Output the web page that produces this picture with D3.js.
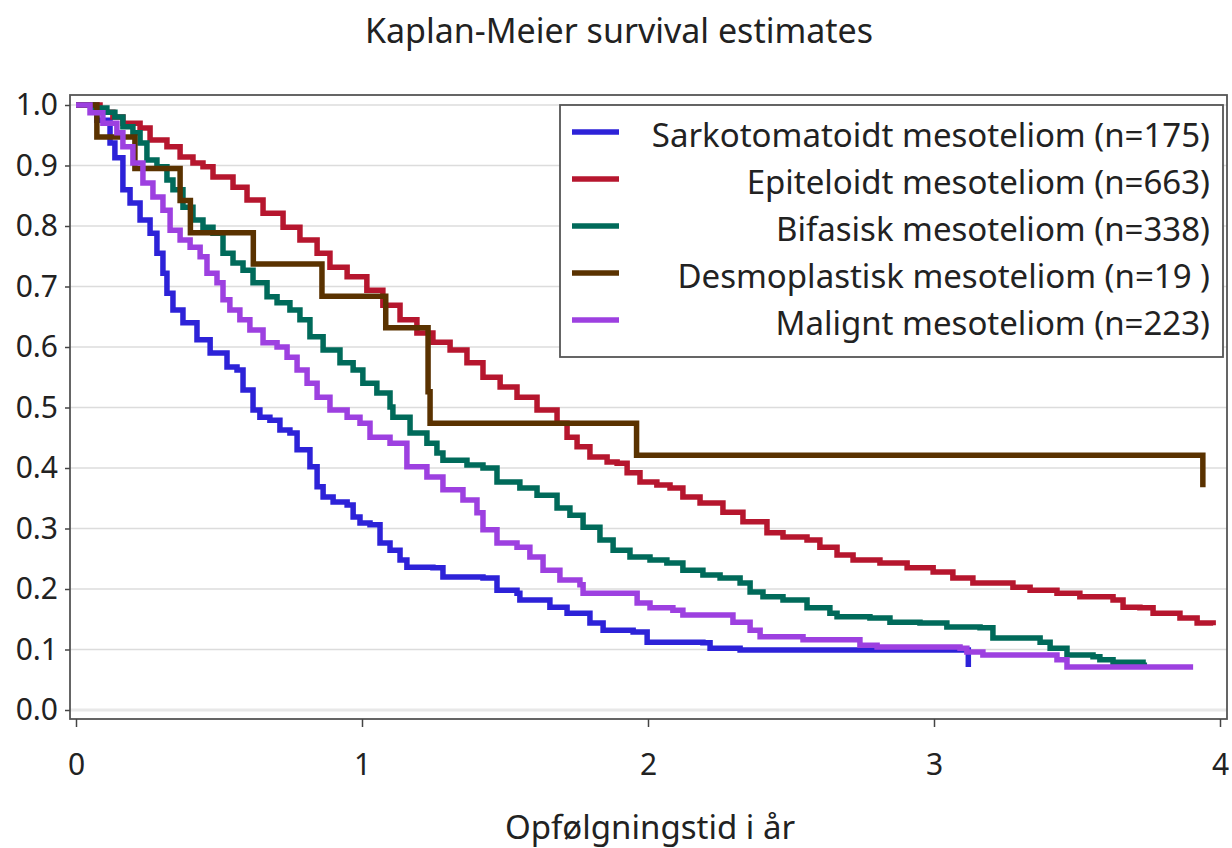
<!DOCTYPE html>
<html>
<head>
<meta charset="utf-8">
<script src="https://cdn.jsdelivr.net/npm/d3@7"></script>
<style>
  html, body { margin: 0; padding: 0; background: #fff; }
  svg { display: block; }
  text { font-family: "Noto Sans", "Open Sans", sans-serif; fill: #222; }
</style>
</head>
<body>
<svg id="chart" width="1232" height="848"></svg>
<script>
// ---- Data ----
const titleText = "Kaplan-Meier survival estimates";
const xLabelText = "Opfølgningstid i år";
const xTicks = [0, 1, 2, 3, 4];
const yTicks = [0, 0.1, 0.2, 0.3, 0.4, 0.5, 0.6, 0.7, 0.8, 0.9, 1.0];

const seriesNames = [
  "Sarkotomatoidt mesoteliom (n=175)",
  "Epiteloidt mesoteliom (n=663)",
  "Bifasisk mesoteliom (n=338)",
  "Desmoplastisk mesoteliom (n=19 )",
  "Malignt mesoteliom (n=223)"
];
const seriesColors = ["#2d22d8", "#b6162e", "#006a5a", "#5a3200", "#9d40e0"];

const sarkoT = [0,0.073,0.119,0.136,0.164,0.189,0.224,0.259,0.283,0.304,0.318,0.339,0.374,0.423,0.469,0.528,0.563,0.584,0.619,0.643,0.678,0.713,0.748,0.773,0.818,0.843,0.864,0.899,0.948,0.969,0.993,1.028,1.063,1.098,1.133,1.157,1.248,1.283,1.423,1.472,1.542,1.552,1.657,1.717,1.797,1.843,1.948,1.997,2.192,2.217,2.322,3.120,3.120];
const sarkoS = [1,0.975,0.937,0.913,0.860,0.838,0.810,0.788,0.755,0.722,0.689,0.661,0.640,0.612,0.590,0.567,0.562,0.529,0.496,0.484,0.479,0.463,0.458,0.430,0.402,0.369,0.352,0.344,0.339,0.319,0.309,0.306,0.276,0.264,0.248,0.236,0.235,0.220,0.218,0.198,0.193,0.182,0.170,0.160,0.144,0.132,0.129,0.112,0.111,0.102,0.099,0.098,0.071];

const epiT = [0,0.084,0.129,0.164,0.224,0.259,0.318,0.364,0.409,0.444,0.479,0.549,0.598,0.654,0.724,0.783,0.843,0.888,0.948,1.017,1.073,1.133,1.192,1.248,1.308,1.367,1.423,1.483,1.542,1.612,1.682,1.717,1.752,1.797,1.857,1.892,1.927,1.972,2.031,2.077,2.122,2.182,2.262,2.332,2.416,2.472,2.556,2.601,2.661,2.717,2.811,2.906,2.997,3.066,3.136,3.276,3.336,3.430,3.510,3.626,3.661,3.720,3.766,3.860,3.920,3.976];
const epiS = [1,0.988,0.980,0.970,0.962,0.942,0.931,0.914,0.904,0.898,0.881,0.864,0.843,0.821,0.798,0.777,0.755,0.732,0.716,0.694,0.669,0.645,0.623,0.608,0.595,0.574,0.550,0.534,0.517,0.496,0.474,0.451,0.435,0.418,0.410,0.408,0.392,0.377,0.372,0.367,0.352,0.342,0.327,0.311,0.293,0.286,0.281,0.269,0.256,0.248,0.243,0.235,0.228,0.218,0.210,0.203,0.198,0.193,0.187,0.182,0.170,0.169,0.160,0.152,0.144,0.140];

const bifT = [0,0.059,0.108,0.136,0.164,0.199,0.224,0.248,0.283,0.318,0.339,0.374,0.409,0.444,0.479,0.514,0.549,0.584,0.619,0.668,0.703,0.748,0.783,0.818,0.864,0.923,0.969,1.003,1.052,1.098,1.108,1.168,1.227,1.262,1.283,1.367,1.423,1.472,1.552,1.612,1.682,1.727,1.773,1.832,1.878,1.937,2.007,2.066,2.122,2.192,2.252,2.322,2.357,2.402,2.472,2.556,2.636,2.661,2.776,2.846,2.951,3.045,3.161,3.206,3.371,3.406,3.465,3.556,3.580,3.626,3.731,3.745];
const bifS = [1,0.995,0.988,0.980,0.964,0.954,0.937,0.909,0.898,0.876,0.860,0.831,0.810,0.798,0.788,0.755,0.739,0.727,0.706,0.683,0.673,0.661,0.645,0.617,0.595,0.574,0.562,0.540,0.524,0.501,0.484,0.458,0.441,0.425,0.413,0.405,0.400,0.377,0.367,0.355,0.334,0.322,0.302,0.281,0.264,0.253,0.248,0.243,0.231,0.223,0.218,0.210,0.195,0.187,0.182,0.169,0.160,0.154,0.152,0.145,0.144,0.137,0.136,0.119,0.112,0.102,0.091,0.088,0.083,0.079,0.074,0.074];

const desmoT = [0,0.073,0.206,0.364,0.400,0.620,0.860,1.083,1.231,1.238,1.960,3.940];
const desmoS = [1,0.947,0.895,0.842,0.789,0.737,0.684,0.632,0.526,0.474,0.421,0.368];

const maligT = [0,0.049,0.094,0.143,0.164,0.199,0.234,0.269,0.304,0.329,0.364,0.399,0.434,0.458,0.493,0.514,0.538,0.573,0.608,0.654,0.703,0.738,0.773,0.808,0.843,0.888,0.948,0.993,1.028,1.098,1.157,1.227,1.283,1.353,1.402,1.423,1.472,1.542,1.587,1.633,1.692,1.762,1.773,1.913,1.962,2.007,2.087,2.122,2.297,2.357,2.392,2.542,2.741,2.801,3.091,3.115,3.171,3.430,3.465,3.906];
const maligS = [1,0.987,0.970,0.954,0.931,0.904,0.871,0.848,0.826,0.793,0.777,0.765,0.749,0.722,0.706,0.678,0.661,0.645,0.628,0.607,0.600,0.583,0.562,0.540,0.517,0.496,0.484,0.474,0.451,0.441,0.402,0.385,0.364,0.347,0.326,0.298,0.276,0.269,0.253,0.231,0.215,0.207,0.193,0.193,0.177,0.169,0.165,0.157,0.145,0.132,0.121,0.116,0.107,0.104,0.102,0.096,0.091,0.083,0.071,0.071];

const seriesT = [sarkoT, epiT, bifT, desmoT, maligT];
const seriesS = [sarkoS, epiS, bifS, desmoS, maligS];

// ---- Layout ----
const FONT = "'Noto Sans', 'Open Sans', sans-serif";
const svg = d3.select("#chart");
const frame = { left: 70, right: 1227, top: 95, bottom: 719 };
const x = d3.scaleLinear().domain([0, 4]).range([76, 1220]);
const y = d3.scaleLinear().domain([0, 1]).range([710, 105]);

// grid
svg.append("g").selectAll("line").data(yTicks).join("line")
  .attr("x1", frame.left).attr("x2", frame.right)
  .attr("y1", d => y(d)).attr("y2", d => y(d))
  .attr("stroke", d => d === 0 ? "#e8e8e8" : "#dcdcdc")
  .attr("stroke-width", d => d === 0 ? 3 : 1.5);

// frame
svg.append("rect")
  .attr("x", frame.left).attr("y", frame.top)
  .attr("width", frame.right - frame.left).attr("height", frame.bottom - frame.top)
  .attr("fill", "none").attr("stroke", "#555").attr("stroke-width", 1.8);

// y axis
const yAxis = d3.axisLeft(y).tickValues(yTicks).tickFormat(d3.format(".1f")).tickSize(5).tickPadding(7);
const gy = svg.append("g").attr("transform", `translate(${frame.left},0)`).call(yAxis);
gy.select(".domain").remove();
gy.selectAll(".tick line").attr("stroke", "#444").attr("stroke-width", 1.5);
gy.selectAll(".tick text").attr("font-size", 30).attr("fill", "#222").style("font-family", FONT);

// x axis
const xAxis = d3.axisBottom(x).tickValues(xTicks).tickFormat(d3.format("d")).tickSize(8).tickPadding(27);
const gx = svg.append("g").attr("transform", `translate(0,${frame.bottom})`).call(xAxis);
gx.select(".domain").remove();
gx.selectAll(".tick line").attr("stroke", "#444").attr("stroke-width", 1.5);
gx.selectAll(".tick text").attr("font-size", 30).attr("fill", "#222").style("font-family", FONT);

// curves
const line = d3.line().x(d => x(d[0])).y(d => y(d[1])).curve(d3.curveStepAfter);
const curves = svg.append("g");
seriesNames.forEach((_, i) => {
  const pts = seriesT[i].map((t, k) => [t, seriesS[i][k]]);
  curves.append("path")
    .attr("d", line(pts))
    .attr("fill", "none")
    .attr("stroke", seriesColors[i])
    .attr("stroke-width", 5.5)
    .attr("stroke-linejoin", "miter");
});

// legend
const lg = svg.append("g");
lg.append("rect").attr("x", 560).attr("y", 105).attr("width", 663).attr("height", 252)
  .attr("fill", "#fff").attr("stroke", "#555").attr("stroke-width", 1.8);
seriesNames.forEach((name, i) => {
  const ly = 132 + i * 47;
  lg.append("line").attr("x1", 572).attr("x2", 619).attr("y1", ly).attr("y2", ly)
    .attr("stroke", seriesColors[i]).attr("stroke-width", 5.5);
  lg.append("text").attr("x", 1210).attr("y", ly + 15).attr("text-anchor", "end")
    .attr("font-size", 33).style("font-family", FONT).text(name);
});

// title & x label
svg.append("text").attr("x", 619).attr("y", 43).attr("text-anchor", "middle")
  .attr("font-size", 34).style("font-family", FONT).text(titleText);
svg.append("text").attr("x", 650).attr("y", 839).attr("text-anchor", "middle")
  .attr("font-size", 33).style("font-family", FONT).text(xLabelText);
</script>
</body>
</html>
